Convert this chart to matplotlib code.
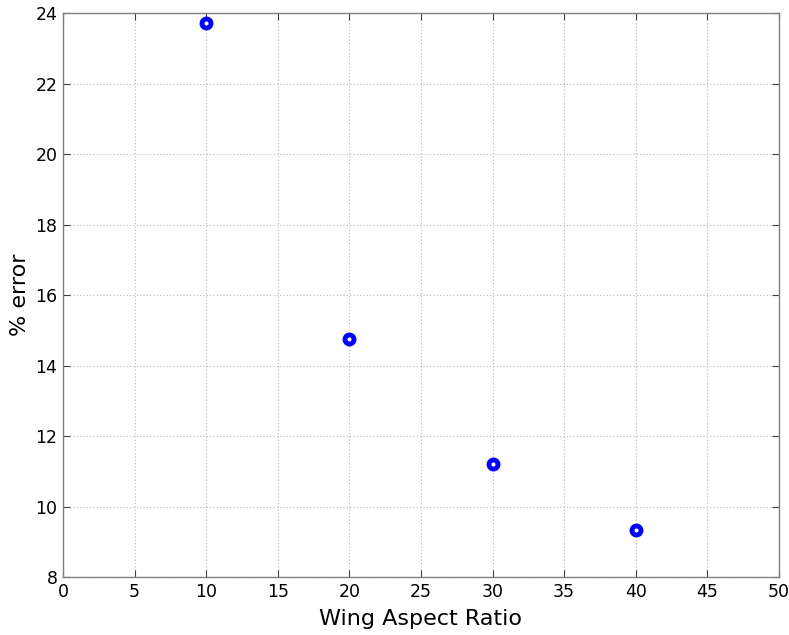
import matplotlib.pyplot as plt

aspect_ratio = [10, 20, 30, 40]
pct_error = [23.72, 14.74, 11.21, 9.32]

x_ticks = list(range(0, 51, 5))
y_ticks = list(range(8, 25, 2))

fig = plt.figure(figsize=(7.89, 6.35), dpi=100)
ax = fig.add_axes([0.0798, 0.0913, 0.9075, 0.8882])

ax.plot(aspect_ratio, pct_error, linestyle="none", marker="o",
        markersize=6.5, markerfacecolor="white", markeredgecolor="#0000ff",
        markeredgewidth=3.5, zorder=5, clip_on=False)

ax.set_xlim(0, 50)
ax.set_ylim(8, 24)
ax.set_xticks(x_ticks)
ax.set_yticks(y_ticks)
ax.grid(True, linestyle=(0, (1, 2)), color="#b8b8b8", linewidth=0.8)

for s in ax.spines.values():
    s.set_color("#808080")
    s.set_linewidth(1.0)
ax.tick_params(direction="in", top=True, right=True, length=5,
               color="#404040", labelsize=12.5, pad=4)

ax.set_xlabel("Wing Aspect Ratio", fontsize=16, labelpad=6)
ax.set_ylabel("% error", fontsize=16, labelpad=4)

fig.savefig("out.png", dpi=100)
